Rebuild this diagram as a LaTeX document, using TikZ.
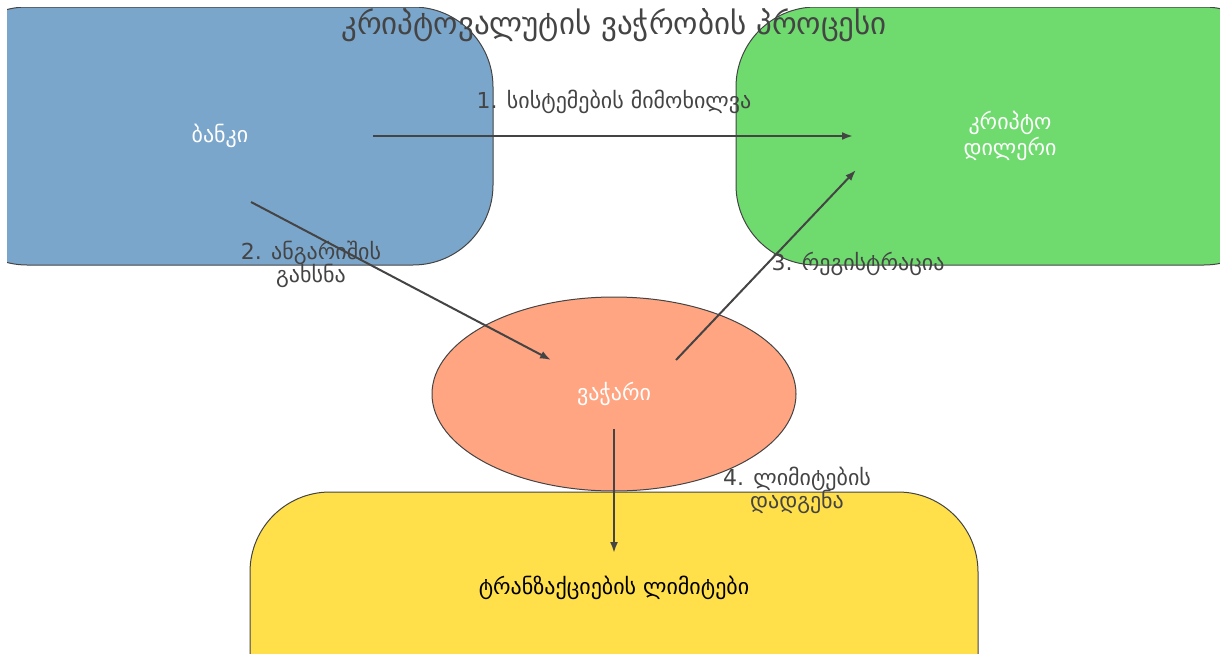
\documentclass[tikz,border=0pt]{standalone}
\usepackage{fontspec}
\setmainfont{DejaVu Sans}
\usetikzlibrary{arrows.meta,shapes.geometric,calc}
\definecolor{bankblue}{RGB}{123,166,203}
\definecolor{dealergreen}{RGB}{111,219,111}
\definecolor{clientsalmon}{RGB}{255,165,130}
\definecolor{limitgold}{RGB}{255,224,75}
\definecolor{inkgray}{RGB}{68,68,68}
\newcommand\steplabelfont{\fontsize{11}{11.5}\selectfont\lineskiplimit=-10pt\relax}

\begin{document}
\begin{tikzpicture}[x=0.5pt,y=-0.5pt,
    box/.style={draw=inkgray,line width=0.5pt,rounded corners=40pt,text=white,
      font=\fontsize{11}{11.5}\selectfont,align=center},
    client/.style={ellipse,draw=inkgray,line width=0.5pt,fill=clientsalmon,text=white,
      font=\fontsize{11}{12}\selectfont,minimum width=182pt,minimum height=97pt},
    flow/.style={draw=inkgray,line width=1pt,-{Latex[length=5.5pt,width=4pt]}},
    steplabel/.style={text=inkgray,font=\steplabelfont,align=center}]
    \useasboundingbox (0,0) rectangle (1220,653);

    \begin{scope}
        \clip (7,7) rectangle (1220,653);
        \node[box,fill=bankblue,minimum width=273pt,minimum height=129pt] (bank) at (220,136) {ბანკი};
        \node[box,fill=dealergreen,minimum width=274pt,minimum height=129pt] (dealer) at (1010,136) {კრიპტო\\დილერი};
        \node[box,fill=limitgold,minimum width=364pt,minimum height=129pt,
            label={[text=black,font=\fontsize{11}{12}\selectfont,yshift=16.5pt]center:ტრანზაქციების ლიმიტები}] (limits) at (614,621) {};
        \node[client] (customer) at (614,394) {ვაჭარი};
    \end{scope}

    \draw[flow] ($(bank)+(153,0)$) -- ($(dealer)+(-157,0)$);
    \draw[flow] ($(bank)+(31,66)$) -- ($(customer)+(-63,-34)$);
    \draw[flow] ($(customer)+(62,-34)$) -- ($(dealer)+(-154,34)$);
    \draw[flow] ($(customer)+(0,35)$) -- ($(limits)+(0,-68)$);

    \node[steplabel] (review) at (614,102) {1. სისტემების მიმოხილვა};
    \node[steplabel] (account) at (311,264) {2. ანგარიშის\\გახსნა};
    \node[steplabel] (register) at (858,264) {3. რეგისტრაცია};
    \node[steplabel] (setlimit) at (797,490) {4. ლიმიტების\\დადგენა};

    \node[text=inkgray,font=\fontsize{15.5}{18}\selectfont] (title) at (614,25) {კრიპტოვალუტის ვაჭრობის პროცესი};
\end{tikzpicture}
\end{document}
